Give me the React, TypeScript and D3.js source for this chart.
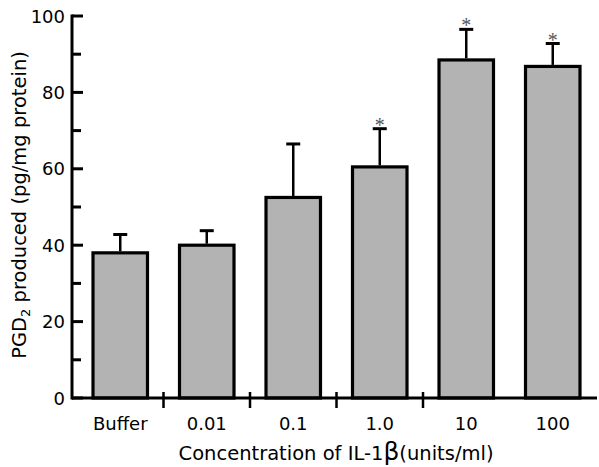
import { useEffect, useRef } from 'react';
import * as d3 from 'd3';

const categories = ['Buffer', '0.01', '0.1', '1.0', '10', '100'];
const means = [38, 40, 52.5, 60.5, 88.5, 86.8];
const errors = [4.8, 3.8, 14, 10, 8, 6];
const significant = [false, false, false, true, true, true];
const yTicks = [0, 20, 40, 60, 80, 100];
const yMinorTicks = [10, 30, 50, 70, 90];

export default function App() {
  const svgRef = useRef<SVGSVGElement>(null);
  const width = 599;
  const height = 467;

  useEffect(() => {
    const svg = d3.select(svgRef.current);
    svg.selectAll('*').remove();

    const font = '"DejaVu Sans", Verdana, sans-serif';
    const axisX = 72;
    const x = d3.scaleBand<string>()
      .domain(categories)
      .range([77, 596])
      .paddingInner(0.37)
      .paddingOuter(0.185);

    const y = d3.scaleLinear()
      .domain([0, 100])
      .range([398, 16]);

    const g = svg.append('g');

    // bars
    g.selectAll('.bar')
      .data(categories)
      .enter().append('rect')
      .attr('class', 'bar')
      .attr('x', d => x(d)!)
      .attr('y', (d, i) => y(means[i]))
      .attr('width', x.bandwidth())
      .attr('height', (d, i) => y(0) - y(means[i]))
      .attr('fill', '#b3b3b3')
      .attr('stroke', '#000')
      .attr('stroke-width', 3.2);

    // error bars
    const eb = g.selectAll('.err')
      .data(categories)
      .enter().append('g')
      .attr('class', 'err');

    eb.append('line')
      .attr('x1', d => x(d)! + x.bandwidth() / 2)
      .attr('x2', d => x(d)! + x.bandwidth() / 2)
      .attr('y1', (d, i) => y(means[i]) - 1.5)
      .attr('y2', (d, i) => y(means[i] + errors[i]))
      .attr('stroke', '#000')
      .attr('stroke-width', 2.5);

    eb.append('line')
      .attr('x1', d => x(d)! + x.bandwidth() / 2 - 7)
      .attr('x2', d => x(d)! + x.bandwidth() / 2 + 7)
      .attr('y1', (d, i) => y(means[i] + errors[i]))
      .attr('y2', (d, i) => y(means[i] + errors[i]))
      .attr('stroke', '#000')
      .attr('stroke-width', 3);

    // asterisks
    g.selectAll('.star')
      .data(categories.filter((d, i) => significant[i]))
      .enter().append('text')
      .attr('class', 'star')
      .attr('x', d => x(d)! + x.bandwidth() / 2)
      .attr('y', d => {
        const i = categories.indexOf(d);
        return y(means[i] + errors[i]) + 3;
      })
      .attr('text-anchor', 'middle')
      .style('font-family', '"Liberation Serif", "Times New Roman", serif')
      .style('font-size', '20px')
      .style('fill', '#555')
      .text('*');

    // y axis
    g.append('line')
      .attr('x1', axisX).attr('x2', axisX)
      .attr('y1', y(100) - 1.5).attr('y2', y(0) + 1.5)
      .attr('stroke', '#000').attr('stroke-width', 3);

    g.selectAll('.ytick')
      .data(yTicks)
      .enter().append('line')
      .attr('x1', axisX)
      .attr('x2', axisX + 11)
      .attr('y1', d => y(d))
      .attr('y2', d => y(d))
      .attr('stroke', '#000')
      .attr('stroke-width', 3);

    g.selectAll('.yminor')
      .data(yMinorTicks)
      .enter().append('line')
      .attr('x1', axisX)
      .attr('x2', axisX + 9)
      .attr('y1', d => y(d))
      .attr('y2', d => y(d))
      .attr('stroke', '#000')
      .attr('stroke-width', 3);

    g.selectAll('.ylabel')
      .data(yTicks)
      .enter().append('text')
      .attr('x', 65)
      .attr('y', d => y(d) + 6.5)
      .attr('text-anchor', 'end')
      .style('font-family', font)
      .style('font-size', '18px')
      .style('fill', '#000')
      .text(d => d);

    // x axis
    g.append('line')
      .attr('x1', axisX).attr('x2', 597)
      .attr('y1', y(0)).attr('y2', y(0))
      .attr('stroke', '#000').attr('stroke-width', 3);

    const boundaries = categories.slice(0, 4).map(d => x(d)! + x.step() - (x.step() - x.bandwidth()) / 2);
    g.selectAll('.xtick')
      .data(boundaries)
      .enter().append('line')
      .attr('x1', d => d).attr('x2', d => d)
      .attr('y1', y(0) - 6).attr('y2', y(0) + 10)
      .attr('stroke', '#000')
      .attr('stroke-width', 2.5);

    g.selectAll('.xlabel')
      .data(categories)
      .enter().append('text')
      .attr('x', d => x(d)! + x.bandwidth() / 2)
      .attr('y', 430)
      .attr('text-anchor', 'middle')
      .style('font-family', font)
      .style('font-size', '18px')
      .style('fill', '#000')
      .text(d => d);

    // axis titles
    const xt = svg.append('text')
      .attr('x', 336)
      .attr('y', 460)
      .attr('text-anchor', 'middle')
      .style('font-family', font)
      .style('font-size', '19.5px')
      .style('fill', '#000');
    xt.append('tspan').text('Concentration of IL-1');
    xt.append('tspan')
      .style('font-size', '25px')
      .text('β');
    xt.append('tspan').text('(units/ml)');

    const yt = svg.append('text')
      .attr('transform', 'translate(26,205) rotate(-90)')
      .attr('text-anchor', 'middle')
      .style('font-family', font)
      .style('font-size', '19.5px')
      .style('fill', '#000');
    yt.append('tspan').text('PGD');
    yt.append('tspan').attr('dy', 4).style('font-size', '13px').text('2');
    yt.append('tspan').attr('dy', -4).text(' produced (pg/mg protein)');
  }, []);

  return (
    <svg
      ref={svgRef}
      width={width}
      height={height}
      style={{ position: 'absolute', left: 0, top: 0, background: '#fff' }}
    />
  );
}
